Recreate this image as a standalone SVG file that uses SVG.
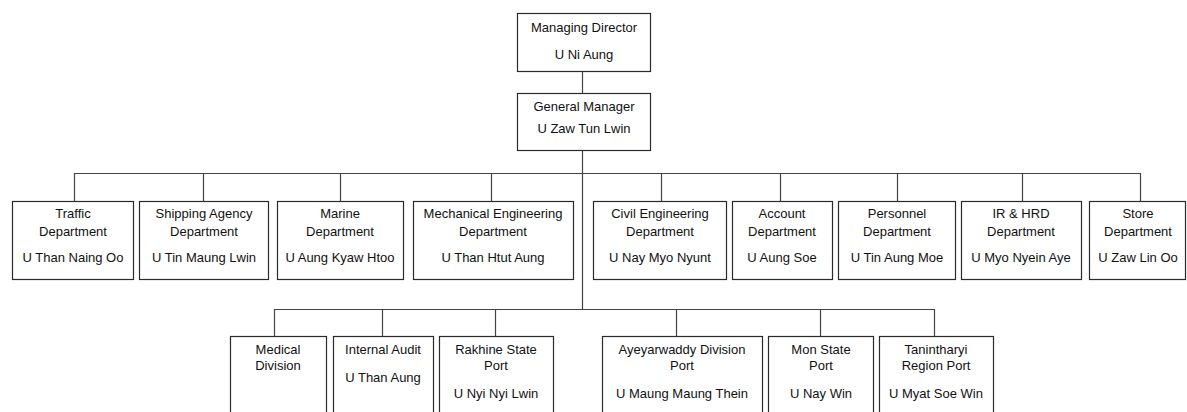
<svg xmlns="http://www.w3.org/2000/svg" width="1187" height="412" viewBox="0 0 1187 412">
<style>
.b{fill:#fff;stroke:#2a2a2a;stroke-width:1.2}
.c{fill:none;stroke:#444;stroke-width:1.2}
text{font-family:"Liberation Sans",Arial,sans-serif;font-size:13px;fill:#111;text-anchor:middle}
</style>
<rect width="1187" height="412" fill="#fff"/>
<g id="connectors">
<path class="c" d="M582.5 71V93M582.5 150V309M74.5 173.5H1140.5M74.5 173V201M203.5 173V201M340.5 173V201M491.5 173V201M661.5 173V201M780.5 173V201M897.5 173V201M1022.5 173V201M1140.5 173V201M274.5 309.5H934.5M274.5 309V336M382.5 309V336M495.5 309V336M676.5 309V336M820.5 309V336M934.5 309V336"/>
</g>
<g id="md"><rect class="b" x="517.5" y="13.5" width="133" height="58"/><text x="584" y="32">Managing Director</text><text x="584" y="59">U Ni Aung</text></g>
<g id="gm"><rect class="b" x="517.5" y="93.5" width="133" height="57"/><text x="584" y="111">General Manager</text><text x="584" y="133">U Zaw Tun Lwin</text></g>
<g id="traffic"><rect class="b" x="12.5" y="201.5" width="121" height="78"/><text x="73" y="218">Traffic</text><text x="73" y="236">Department</text><text x="73" y="262">U Than Naing Oo</text></g>
<g id="shipping"><rect class="b" x="139.5" y="201.5" width="129" height="78"/><text x="204" y="218">Shipping Agency</text><text x="204" y="236">Department</text><text x="204" y="262">U Tin Maung Lwin</text></g>
<g id="marine"><rect class="b" x="277.5" y="201.5" width="126" height="78"/><text x="340" y="218">Marine</text><text x="340" y="236">Department</text><text x="340" y="262">U Aung Kyaw Htoo</text></g>
<g id="mechanical"><rect class="b" x="413.5" y="201.5" width="160" height="78"/><text x="493" y="218">Mechanical Engineering</text><text x="493" y="236">Department</text><text x="493" y="262">U Than Htut Aung</text></g>
<g id="civil"><rect class="b" x="593.5" y="201.5" width="133" height="78"/><text x="660" y="218">Civil Engineering</text><text x="660" y="236">Department</text><text x="660" y="262">U Nay Myo Nyunt</text></g>
<g id="account"><rect class="b" x="732.5" y="201.5" width="100" height="78"/><text x="782" y="218">Account</text><text x="782" y="236">Department</text><text x="782" y="262">U Aung Soe</text></g>
<g id="personnel"><rect class="b" x="838.5" y="201.5" width="117" height="78"/><text x="897" y="218">Personnel</text><text x="897" y="236">Department</text><text x="897" y="262">U Tin Aung Moe</text></g>
<g id="irhrd"><rect class="b" x="961.5" y="201.5" width="120" height="78"/><text x="1021" y="218">IR &amp; HRD</text><text x="1021" y="236">Department</text><text x="1021" y="262">U Myo Nyein Aye</text></g>
<g id="store"><rect class="b" x="1089.5" y="201.5" width="96" height="78"/><text x="1138" y="218">Store</text><text x="1138" y="236">Department</text><text x="1138" y="262">U Zaw Lin Oo</text></g>
<g id="medical"><rect class="b" x="230.5" y="336.5" width="96" height="90"/><text x="278" y="354">Medical</text><text x="278" y="370">Division</text></g>
<g id="audit"><rect class="b" x="333.5" y="336.5" width="100" height="90"/><text x="383" y="354">Internal Audit</text><text x="383" y="382">U Than Aung</text></g>
<g id="rakhine"><rect class="b" x="439.5" y="336.5" width="114" height="90"/><text x="496" y="354">Rakhine State</text><text x="496" y="370">Port</text><text x="496" y="398">U Nyi Nyi Lwin</text></g>
<g id="ayeyarwaddy"><rect class="b" x="602.5" y="336.5" width="160" height="90"/><text x="682" y="354">Ayeyarwaddy Division</text><text x="682" y="370">Port</text><text x="682" y="398">U Maung Maung Thein</text></g>
<g id="mon"><rect class="b" x="768.5" y="336.5" width="105" height="90"/><text x="821" y="354">Mon State</text><text x="821" y="370">Port</text><text x="821" y="398">U Nay Win</text></g>
<g id="tanintharyi"><rect class="b" x="879.5" y="336.5" width="114" height="90"/><text x="936" y="354">Tanintharyi</text><text x="936" y="370">Region Port</text><text x="936" y="398">U Myat Soe Win</text></g>
</svg>
